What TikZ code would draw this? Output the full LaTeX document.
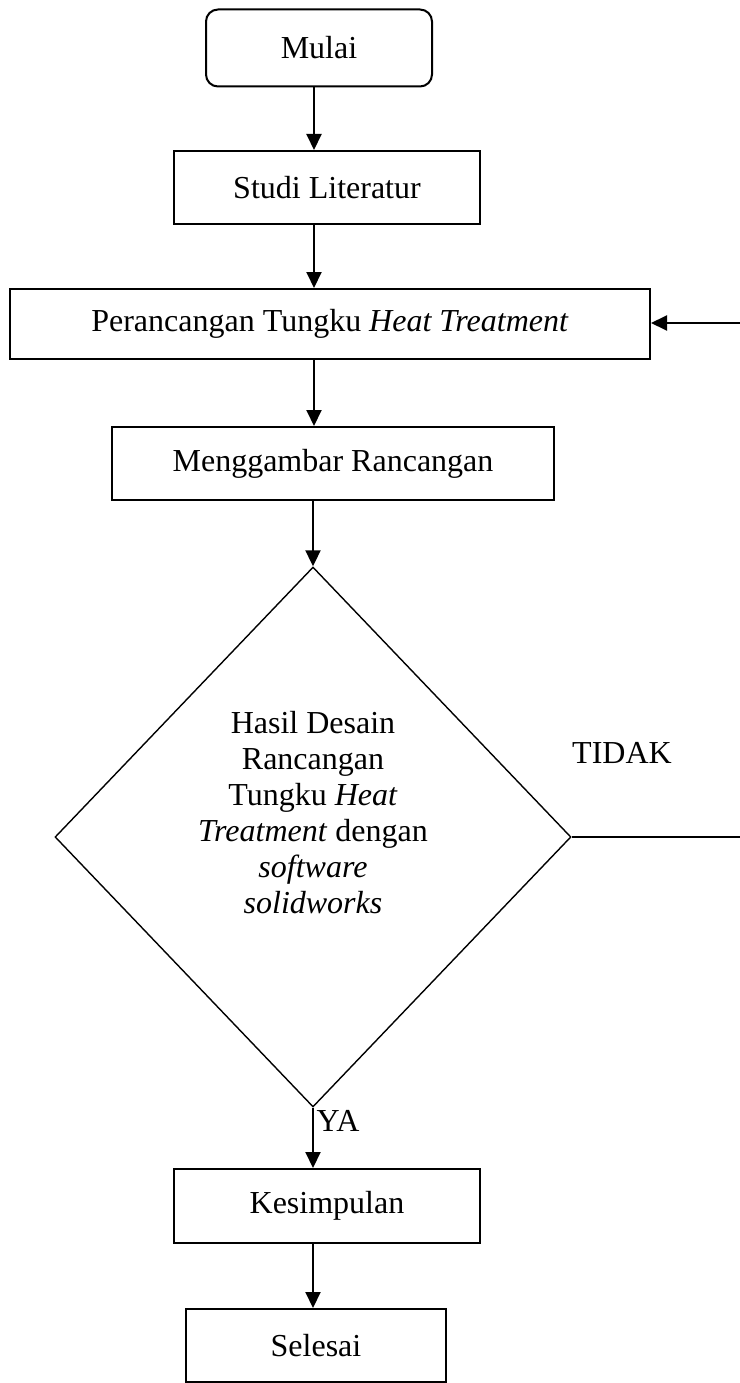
\documentclass[tikz,border=0pt]{standalone}
\usepackage{fontspec}
\setmainfont{Liberation Serif}
\usetikzlibrary{arrows.meta,shapes.geometric}
\tikzset{
  box/.style={draw, line width=2pt, minimum width=#1, inner sep=0pt, font=\fontsize{32}{36}\selectfont},
  conn/.style={line width=2pt, -{Triangle[length=16pt,width=15pt]}},
  plain/.style={line width=2pt},
  lbl/.style={inner sep=0pt, font=\fontsize{32}{36}\selectfont},
}
\begin{document}
\begin{tikzpicture}[x=1pt,y=-1pt]
\useasboundingbox (0,0) rectangle (739,1383);
\coordinate (ax) at (314,0);
\node[box=226pt, minimum height=77pt, rounded corners=12pt] (mulai) at (319,48) {Mulai};
\node[box=306pt, minimum height=73pt] (studi) at (327,187.5) {Studi Literatur};
\node[box=640pt, minimum height=70pt] (peranc) at (330,324) {Perancangan Tungku \textit{Heat Treatment}};
\node[box=442pt, minimum height=73pt] (gambar) at (333,463.5) {Menggambar Rancangan};
\node[draw, line width=1.4pt, shape=diamond, minimum width=516pt, minimum height=540pt, inner sep=0pt] (dec) at (313,837) {};
\node[lbl, align=center] (dectext) at (313,813) {Hasil Desain\\Rancangan\\Tungku \textit{Heat}\\\textit{Treatment} dengan\\\textit{software}\\\textit{solidworks}};
\node[box=306pt, minimum height=74pt] (simpul) at (327,1206) {Kesimpulan};
\node[box=260pt, minimum height=73pt] (selesai) at (316,1345.5) {Selesai};
\node[lbl] (ya) at (338,1121) {YA};
\node[lbl] (tidak) at (622,753) {TIDAK};
\coordinate (c1) at (745,837);
\coordinate (c2) at (745,323);
\draw[conn] (mulai.south -| ax) -- (studi.north -| ax);
\draw[conn] (studi.south -| ax) -- (peranc.north -| ax);
\draw[conn] (peranc.south -| ax) -- (gambar.north -| ax);
\draw[conn] (gambar.south -| dec.north) -- (dec.north);
\draw[conn] (dec.south) -- (dec.south |- simpul.north);
\draw[conn] (dec.south |- simpul.south) -- (dec.south |- selesai.north);
\draw[plain] (dec.east) -- (c1) -- (c2);
\draw[conn] (c2) -- (c2 -| peranc.east);
\end{tikzpicture}
\end{document}
